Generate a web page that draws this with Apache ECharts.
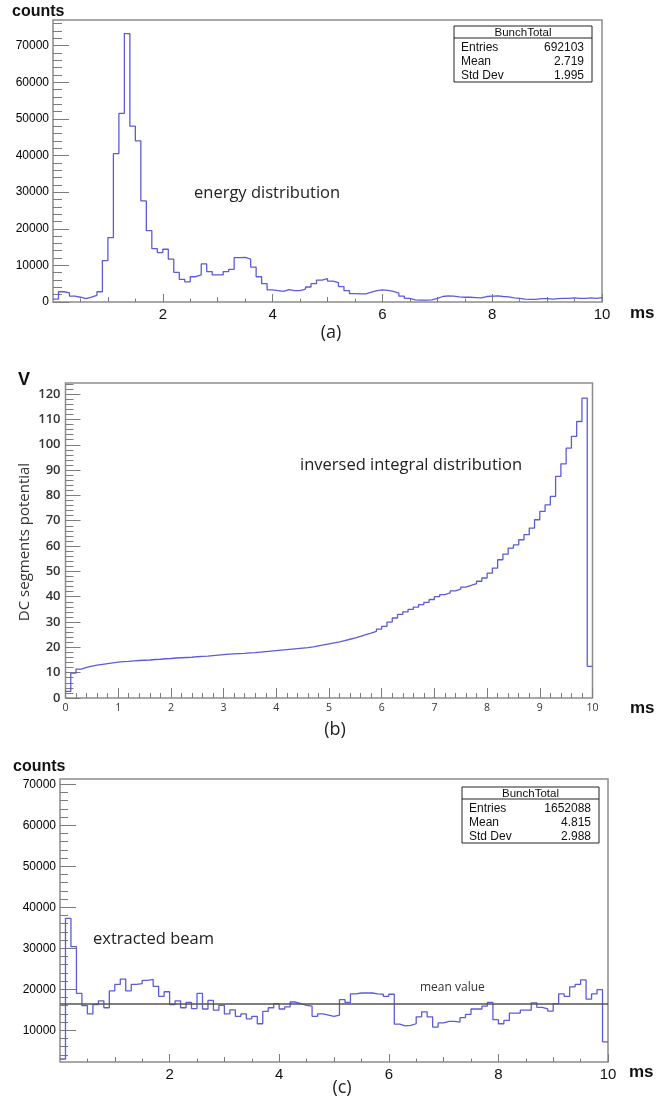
<!DOCTYPE html>
<html>
<head>
<meta charset="utf-8">
<title>BunchTotal</title>
<script src="https://cdn.jsdelivr.net/npm/echarts@6/dist/echarts.min.js"></script>
<style>
  html, body { margin: 0; padding: 0; background: #fff; }
  #chart { width: 657px; height: 1101px; }
</style>
</head>
<body>
<div id="chart"></div>
<script>
// 100 bins of 0.1 ms from 0 to 10 ms
var binWidth = 0.1;

// (a) energy distribution, counts per bin
var energyCounts = [
    800, 2800, 2500, 1600, 1300, 900, 1300, 1800, 2800, 11300,
    17600, 40500, 51500, 73300, 48000, 44000, 27600, 19500, 14600, 13500,
    14400, 11700, 8100, 6200, 5500, 6900, 7400, 10400, 8300, 7400,
    7400, 8300, 8900, 12100, 12200, 11700, 9500, 6900, 5000, 3300,
    3100, 2900, 3400, 3100, 3100, 3500, 4100, 5000, 6000, 6400,
    5700, 5300, 4200, 3100, 2300, 2200, 2200, 2700, 3100, 3300,
    3200, 2900, 2400, 1600, 1000, 600, 500, 500, 600, 1000,
    1500, 1700, 1600, 1400, 1300, 1300, 1200, 1100, 1500, 1600,
    1700, 1500, 1400, 1100, 1000, 800, 700, 700, 900, 900,
    800, 900, 1000, 1000, 1100, 1000, 1000, 1100, 1000, 1200
];

// (b) inversed integral distribution, volts per bin
var potentialV = [
    2.6, 9.8, 11.4, 12.1, 12.6, 13.0, 13.3, 13.6, 13.9, 14.2,
    14.4, 14.5, 14.7, 14.8, 14.9, 15.0, 15.2, 15.3, 15.5, 15.6,
    15.8, 15.9, 16.0, 16.1, 16.3, 16.4, 16.5, 16.7, 16.9, 17.1,
    17.3, 17.4, 17.5, 17.6, 17.8, 17.9, 18.1, 18.3, 18.5, 18.7,
    18.9, 19.1, 19.3, 19.5, 19.7, 19.9, 20.2, 20.6, 21.0, 21.4,
    21.8, 22.2, 22.7, 23.2, 23.7, 24.3, 25.0, 25.6, 26.3, 27.2,
    28.3, 30.0, 31.6, 33.0, 34.0, 35.0, 35.9, 36.9, 37.8, 38.9,
    40.0, 40.8, 41.5, 42.3, 43.0, 43.8, 44.5, 45.2, 46.1, 47.4,
    49.3, 51.3, 54.6, 56.8, 59.2, 60.5, 62.5, 64.5, 67.1, 70.4,
    73.7, 76.3, 79.6, 87.5, 92.5, 98.7, 103.3, 109.2, 118.4, 12.5
];

// (c) extracted beam, counts per bin
var extractedCounts = [
    3000, 37300, 30400, 19000, 16000, 14000, 16300, 17200, 15500, 19600,
    21200, 22500, 19600, 21200, 21400, 22200, 22400, 20700, 18300, 19400,
    16300, 17200, 15500, 16800, 15300, 19000, 15200, 17300, 14900, 16100,
    14000, 15000, 13400, 14000, 12800, 13400, 11600, 14600, 15500, 16500,
    15200, 15700, 16900, 16500, 16100, 15900, 13400, 14000, 13700, 13400,
    13700, 17500, 16800, 18900, 19100, 19100, 19100, 18900, 18800, 18300,
    18800, 11500, 11100, 11200, 11600, 13300, 14500, 13300, 10800, 11800,
    12200, 12200, 12000, 13100, 13900, 15200, 15200, 15900, 16800, 12600,
    11600, 12400, 14200, 14200, 14900, 14900, 16700, 15600, 15200, 14700,
    16500, 18900, 18300, 20600, 21200, 22300, 17600, 18900, 19900, 7200
];
var extractedMean = 16520;

var statsA = [['Entries', '692103'], ['Mean', '2.719'], ['Std Dev', '1.995']];
var statsC = [['Entries', '1652088'], ['Mean', '4.815'], ['Std Dev', '2.988']];

var xLabelsAC = [2, 4, 6, 8, 10];
var yLabelsA = [0, 10000, 20000, 30000, 40000, 50000, 60000, 70000];
var xLabelsB = [0, 1, 2, 3, 4, 5, 6, 7, 8, 9, 10];
var yLabelsB = [0, 10, 20, 30, 40, 50, 60, 70, 80, 90, 100, 110, 120];
var yLabelsC = [10000, 20000, 30000, 40000, 50000, 60000, 70000];

function range(a, b, step) {
    var out = [];
    for (var v = a; v <= b + 1e-9; v += step) out.push(+v.toFixed(6));
    return out;
}

// bin left edges + closing point at the right edge, drawn with step:'end'
function histPoints(values) {
    var pts = values.map(function (v, i) { return [i * binWidth, v]; });
    pts.push([values.length * binWidth, values[values.length - 1]]);
    return pts;
}

var tickColor = '#7c7c7c';
var rootFont = 'Liberation Sans, Helvetica, Arial, sans-serif';
var textFont = 'Open Sans, Noto Sans, sans-serif';

function tickAxis(dim, grid, min, max, ticks, len, labels, labelStyle) {
    return {
        type: 'value', gridIndex: grid, min: min, max: max,
        position: dim === 'x' ? 'bottom' : 'left',
        axisLine: { show: false },
        splitLine: { show: false },
        axisTick: { show: true, inside: true, length: len, customValues: ticks,
            lineStyle: { color: tickColor, width: 1 } },
        axisLabel: labels ? Object.assign({
            customValues: labels,
            formatter: function (v) { return String(v); }
        }, labelStyle) : { show: false }
    };
}

var gridStyle = { show: true, borderColor: '#8c8c8c', borderWidth: 1.5, backgroundColor: '#fff', outerBoundsMode: 'none' };

var xLabA = { fontFamily: rootFont, fontSize: 15, color: '#111', margin: 5 };
var yLabA = { fontFamily: rootFont, fontSize: 12, color: '#000', margin: 4 };
var xLabB = { fontFamily: textFont, fontSize: 10.5, color: '#333', margin: 5 };
var yLabB = { fontFamily: textFont, fontSize: 13, fontWeight: 600, color: '#333', margin: 5 };

function statsBox(x, y, w, h, rows) {
    var els = [
        { type: 'rect', shape: { x: x, y: y, width: w, height: h },
          style: { fill: '#fff', stroke: '#222', lineWidth: 1 } },
        { type: 'line', shape: { x1: x, y1: y + 12, x2: x + w, y2: y + 12 },
          style: { stroke: '#222', lineWidth: 1 } },
        { type: 'text', style: { text: 'BunchTotal', x: x + w / 2, y: y + 6.5,
          textAlign: 'center', textVerticalAlign: 'middle', font: '11.5px ' + rootFont, fill: '#111' } }
    ];
    rows.forEach(function (r, i) {
        var ry = y + 21.5 + i * 14;
        els.push({ type: 'text', style: { text: r[0], x: x + 7, y: ry,
            textAlign: 'left', textVerticalAlign: 'middle', font: '12px ' + rootFont, fill: '#111' } });
        els.push({ type: 'text', style: { text: r[1], x: x + w - 8, y: ry,
            textAlign: 'right', textVerticalAlign: 'middle', font: '12px ' + rootFont, fill: '#111' } });
    });
    return els;
}

function label(text, x, y, font, align, color) {
    return { type: 'text', style: { text: text, x: x, y: y, font: font,
        textAlign: align || 'left', textVerticalAlign: 'middle', fill: color || '#111' } };
}

var chart = echarts.init(document.getElementById('chart'), null, { renderer: 'canvas' });

var graphics = []
    .concat(statsBox(454, 26, 138, 56, statsA))
    .concat(statsBox(462, 787, 137, 56, statsC))
    .concat([
        label('counts', 12, 12, 'bold 16px ' + rootFont),
        label('ms', 630, 313, 'bold 17px ' + rootFont),
        label('(a)', 331, 333, '18px ' + textFont, 'center', '#222'),
        label('energy distribution', 194, 193, '16.5px ' + textFont, 'left', '#222'),

        label('V', 18, 380, 'bold 18px ' + rootFont),
        label('ms', 630, 708, 'bold 17px ' + rootFont),
        label('(b)', 335, 730, '18px ' + textFont, 'center', '#222'),
        label('inversed integral distribution', 300, 465, '16.5px ' + textFont, 'left', '#222'),
        {
            type: 'text', x: 25, y: 542, rotation: Math.PI / 2,
            style: { text: 'DC segments potential', x: 0, y: 0, font: '15px ' + textFont,
                textAlign: 'center', textVerticalAlign: 'middle', fill: '#333' }
        },

        label('counts', 13, 767, 'bold 16px ' + rootFont),
        label('ms', 629, 1072, 'bold 17px ' + rootFont),
        label('(c)', 342, 1088, '18px ' + textFont, 'center', '#222'),
        label('extracted beam', 93, 939, '16.5px ' + textFont, 'left', '#222'),
        label('mean value', 420, 988, '12px ' + textFont, 'left', '#333')
    ]);

var lineColor = '#5c5cd6';

var option = {
    animation: false,
    backgroundColor: '#fff',
    grid: [
        Object.assign({ left: 53, top: 20, width: 549, height: 282 }, gridStyle),
        Object.assign({ left: 65.5, top: 383, width: 527, height: 315 }, gridStyle),
        Object.assign({ left: 60, top: 779, width: 548, height: 283 }, gridStyle)
    ],
    xAxis: [
        tickAxis('x', 0, 0, 10, xLabelsAC, 8, xLabelsAC, xLabA),
        tickAxis('x', 0, 0, 10, range(1, 9, 2), 5),
        tickAxis('x', 0, 0, 10, range(0.5, 9.5, 1), 3.5),
        tickAxis('x', 1, 0, 10, xLabelsB, 10, xLabelsB, xLabB),
        tickAxis('x', 1, 0, 10, range(0.2, 9.8, 0.2), 5),
        tickAxis('x', 2, 0, 10, xLabelsAC, 8, xLabelsAC, xLabA),
        tickAxis('x', 2, 0, 10, range(1, 9, 2), 5),
        tickAxis('x', 2, 0, 10, range(0.5, 9.5, 1), 3.5)
    ],
    yAxis: [
        tickAxis('y', 0, 0, 77000, yLabelsA, 16, yLabelsA, yLabA),
        tickAxis('y', 0, 0, 77000, range(2000, 76000, 2000), 9),
        tickAxis('y', 1, 0, 124.4, yLabelsB, 15, yLabelsB, yLabB),
        tickAxis('y', 1, 0, 124.4, range(2, 124, 2), 8),
        tickAxis('y', 2, 2270, 71300, yLabelsC, 16, yLabelsC, yLabA),
        tickAxis('y', 2, 2270, 71300, range(4000, 70000, 2000), 8)
    ],
    series: [
        {
            type: 'line', name: 'energy', xAxisIndex: 0, yAxisIndex: 0,
            step: 'end', symbol: 'none', silent: true,
            lineStyle: { color: lineColor, width: 1.3 },
            data: histPoints(energyCounts)
        },
        {
            type: 'line', name: 'potential', xAxisIndex: 3, yAxisIndex: 2,
            step: 'end', symbol: 'none', silent: true,
            lineStyle: { color: lineColor, width: 1.3 },
            data: histPoints(potentialV)
        },
        {
            type: 'line', name: 'extracted', xAxisIndex: 5, yAxisIndex: 4,
            step: 'end', symbol: 'none', silent: true,
            lineStyle: { color: lineColor, width: 1.3 },
            data: histPoints(extractedCounts),
            markLine: {
                silent: true, symbol: ['none', 'none'], label: { show: false },
                lineStyle: { color: '#555', width: 1.5, type: 'solid' },
                data: [{ yAxis: extractedMean }]
            }
        }
    ],
    graphic: { elements: graphics }
};

chart.setOption(option);
</script>
</body>
</html>
